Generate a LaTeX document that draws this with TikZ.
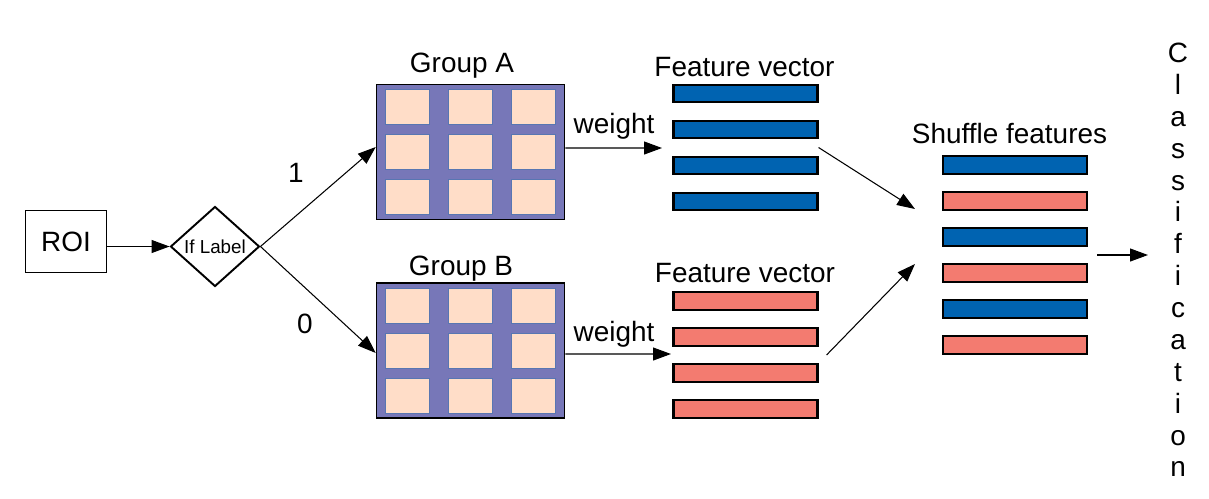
\documentclass[tikz,border=0pt]{standalone}
\usepackage{fontspec}
\setmainfont{Liberation Sans}
\usetikzlibrary{arrows.meta,calc,positioning,shapes.geometric}

\definecolor{featblue}{RGB}{0,99,177}
\definecolor{featred}{RGB}{243,123,112}
\definecolor{groupfill}{RGB}{119,119,184}
\definecolor{cellfill}{RGB}{255,221,200}
\definecolor{cellline}{RGB}{88,118,178}

\tikzset{
    txt/.style={font=\fontsize{15.9}{19}\selectfont, inner sep=0},
    roibox/.style={draw, line width=1.1pt, minimum width=1.62cm, minimum height=1.24cm, inner sep=0},
    decision/.style={diamond, draw, line width=1.1pt, minimum width=1.78cm, minimum height=1.6cm, inner sep=0, font=\fontsize{10.7}{13}\selectfont},
    groupbox/.style={draw, line width=0.9pt, fill=groupfill, minimum width=3.76cm, minimum height=2.7cm},
    cell/.style={draw=cellline, line width=0.5pt, fill=cellfill, minimum width=0.88cm, minimum height=0.70cm},
    bar/.style={draw, line width=1.2pt, minimum width=2.88cm, minimum height=0.35cm, inner sep=0},
    arr/.style={-{Triangle[length=0.36cm,width=0.26cm]}, line width=0.6pt},
}

\begin{document}
\begin{tikzpicture}[x=0.02cm,y=-0.02cm]
        % page frame in pixel units
        \useasboundingbox (0,0) rectangle (1209,498);

        % input and decision
        \node[roibox, txt] (roi) at (66,241.5) {ROI};
        \node[decision] (label) at (215,246.5) {If Label};

        % the two groups with their 3x3 cells
        \node[groupbox] (groupA) at (470.5,152) {};
        \node[groupbox] (groupB) at (470.5,350.5) {};
        \foreach \g in {groupA,groupB}{
            \foreach \dx in {-63,0,63}{
                \foreach \dy in {-45,0,45}{
                    \node[cell] at ($(\g)+(\dx,\dy)$) {};
                }
            }
        }
        \node[txt, anchor=base] (titleA) at (462,72) {Group A};
        \node[txt, anchor=base] (titleB) at (461,275) {Group B};

        % branch labels
        \node[txt, anchor=base] (one) at (296,182) {1};
        \node[txt, anchor=base] (zero) at (305,333) {0};

        % feature vectors of each group
        \foreach \i in {1,...,4}{
            \node[bar, fill=featblue] (fa\i) at (745.5,57.5+36*\i) {};
            \node[bar, fill=featred] (fb\i) at (745.5,265+36*\i) {};
        }
        \node[txt, anchor=base] (vecA) at (744.5,76) {Feature vector};
        \node[txt, anchor=base] (vecB) at (745,282) {Feature vector};

        % shuffled features
        \foreach \i/\col in {1/featblue,2/featred,3/featblue,4/featred,5/featblue,6/featred}{
            \node[bar, fill=\col] (s\i) at (1015,129+36*\i) {};
        }
        \node[txt, anchor=base] (shuf) at (1009.5,143) {Shuffle features};

        % output
        \node[txt, align=center, font=\fontsize{15.9}{18.14}\selectfont] (cls) at (1178,260)
            {C\\l\\a\\s\\s\\i\\f\\i\\c\\a\\t\\i\\o\\n};

        % free ends of the arrows
        \coordinate (inA) at (662,148);
        \coordinate (inB) at (671,354);
        \coordinate (mixA) at (915,209);
        \coordinate (mixB) at (915,264);
        \coordinate (out) at (1148,255);

        % weight labels
        \node[txt, anchor=base] (wA) at (614,133) {weight};
        \node[txt, anchor=base] (wB) at (614,341) {weight};

        % arrows
        \draw[arr] (roi.east |- label.west) -- (label.west);
        \draw[arr] (label.east) -- ([yshift=0.1cm]groupA.west);
        \draw[arr] (label.east) -- ([yshift=-0.05cm]groupB.west);
        \draw[arr] ([yshift=0.08cm]groupA.east) -- (inA);
        \draw[arr] ([yshift=-0.07cm]groupB.east) -- (inB);
        \draw[arr] ($(fa2.south east)!0.5!(fa3.north east)$) -- (mixA);
        \draw[arr] ([xshift=0.16cm]$(fb2.south east)!0.5!(fb3.north east)$) -- (mixB);
        \draw[arr] ([xshift=0.18cm]$(s3.south east)!0.5!(s4.north east)$) -- (out);

    \end{tikzpicture}
\end{document}
